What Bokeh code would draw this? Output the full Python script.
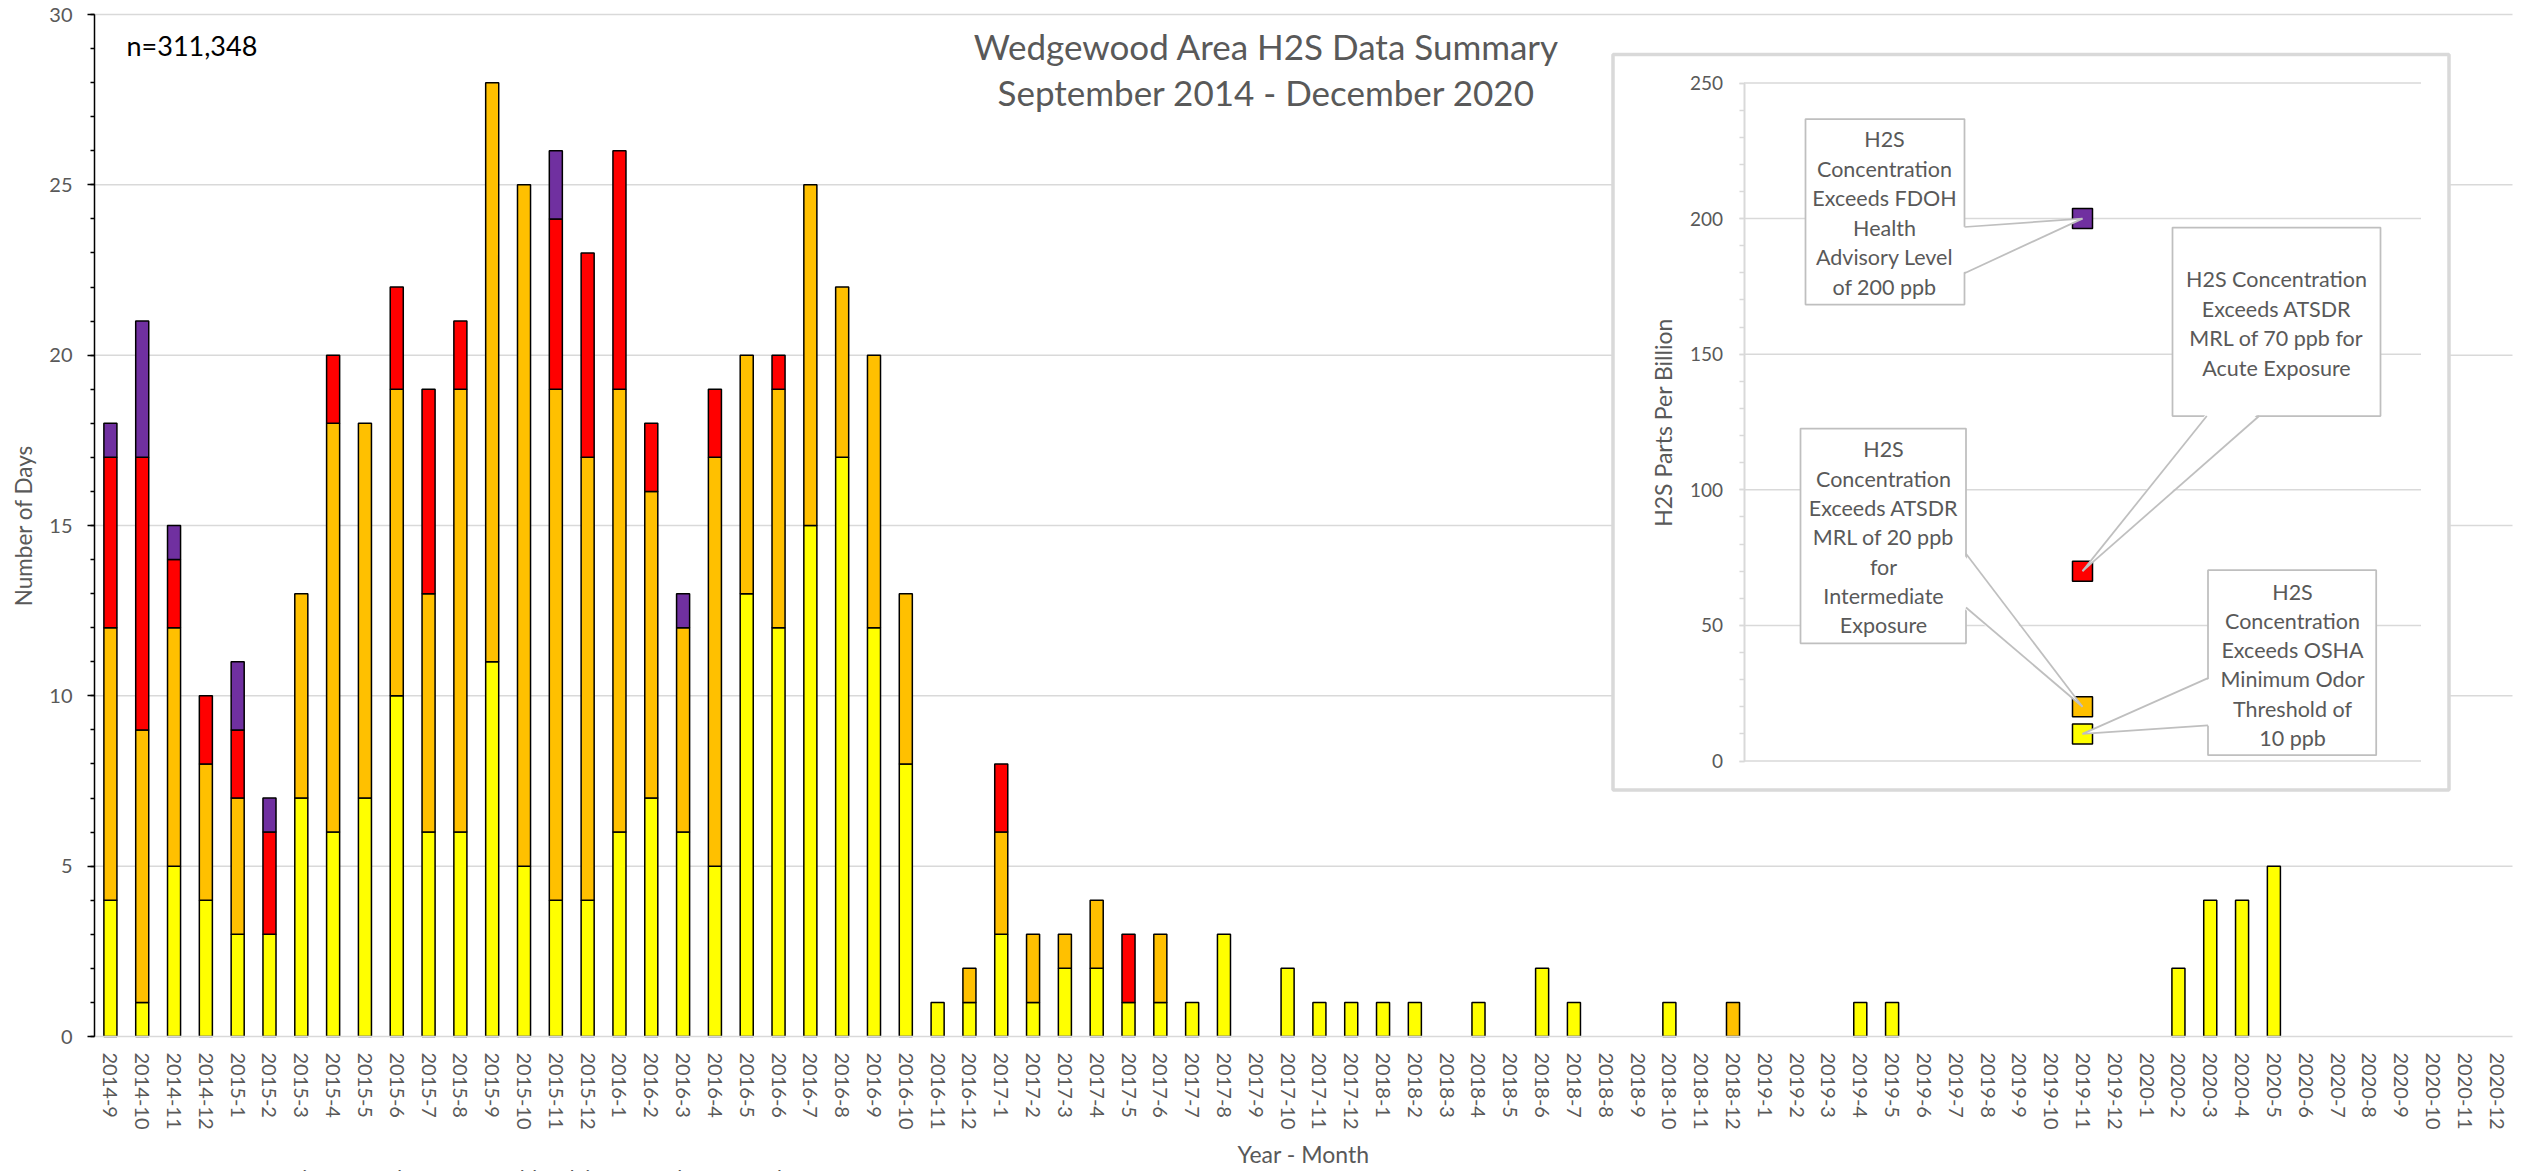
from math import pi
from bokeh.plotting import figure
from bokeh.models import (Range1d, LinearAxis, SingleIntervalTicker, FixedTicker,
                          ColumnDataSource, Label, Legend, LegendItem)
from bokeh.embed import file_html
from bokeh.resources import INLINE
from bokeh.core.properties import value

# ---------------- data ----------------
months = [
    "2014-9", "2014-10", "2014-11", "2014-12",
    "2015-1", "2015-2", "2015-3", "2015-4", "2015-5", "2015-6",
    "2015-7", "2015-8", "2015-9", "2015-10", "2015-11", "2015-12",
    "2016-1", "2016-2", "2016-3", "2016-4", "2016-5", "2016-6",
    "2016-7", "2016-8", "2016-9", "2016-10", "2016-11", "2016-12",
    "2017-1", "2017-2", "2017-3", "2017-4", "2017-5", "2017-6",
    "2017-7", "2017-8", "2017-9", "2017-10", "2017-11", "2017-12",
    "2018-1", "2018-2", "2018-3", "2018-4", "2018-5", "2018-6",
    "2018-7", "2018-8", "2018-9", "2018-10", "2018-11", "2018-12",
    "2019-1", "2019-2", "2019-3", "2019-4", "2019-5", "2019-6",
    "2019-7", "2019-8", "2019-9", "2019-10", "2019-11", "2019-12",
    "2020-1", "2020-2", "2020-3", "2020-4", "2020-5", "2020-6",
    "2020-7", "2020-8", "2020-9", "2020-10", "2020-11", "2020-12",
]

# days per month in each concentration band (stacked segments)
days_osha_10 = [4, 1, 5, 4,
                3, 3, 7, 6, 7, 10, 6, 6, 11, 5, 4, 4,
                6, 7, 6, 5, 13, 12, 15, 17, 12, 8, 1, 1,
                3, 1, 2, 2, 1, 1, 1, 3, 0, 2, 1, 1,
                1, 1, 0, 1, 0, 2, 1, 0, 0, 1, 0, 0,
                0, 0, 0, 1, 1, 0, 0, 0, 0, 0, 0, 0,
                0, 2, 4, 4, 5, 0, 0, 0, 0, 0, 0, 0]
days_atsdr_20 = [8, 8, 7, 4,
                 4, 0, 6, 12, 11, 9, 7, 13, 17, 20, 15, 13,
                 13, 9, 6, 12, 7, 7, 10, 5, 8, 5, 0, 1,
                 3, 2, 1, 2, 0, 2, 0, 0, 0, 0, 0, 0,
                 0, 0, 0, 0, 0, 0, 0, 0, 0, 0, 0, 1,
                 0, 0, 0, 0, 0, 0, 0, 0, 0, 0, 0, 0,
                 0, 0, 0, 0, 0, 0, 0, 0, 0, 0, 0, 0]
days_atsdr_70 = [5, 8, 2, 2,
                 2, 3, 0, 2, 0, 3, 6, 2, 0, 0, 5, 6,
                 7, 2, 0, 2, 0, 1, 0, 0, 0, 0, 0, 0,
                 2, 0, 0, 0, 2, 0, 0, 0, 0, 0, 0, 0,
                 0, 0, 0, 0, 0, 0, 0, 0, 0, 0, 0, 0,
                 0, 0, 0, 0, 0, 0, 0, 0, 0, 0, 0, 0,
                 0, 0, 0, 0, 0, 0, 0, 0, 0, 0, 0, 0]
days_fdoh_200 = [1, 4, 1, 0,
                 2, 1, 0, 0, 0, 0, 0, 0, 0, 0, 2, 0,
                 0, 0, 1, 0, 0, 0, 0, 0, 0, 0, 0, 0,
                 0, 0, 0, 0, 0, 0, 0, 0, 0, 0, 0, 0,
                 0, 0, 0, 0, 0, 0, 0, 0, 0, 0, 0, 0,
                 0, 0, 0, 0, 0, 0, 0, 0, 0, 0, 0, 0,
                 0, 0, 0, 0, 0, 0, 0, 0, 0, 0, 0, 0]

series_labels = [
    "H2S Concentration Exceeds OSHA Minimum Odor Threshold of 10 ppb",
    "H2S Concentration Exceeds ATSDR MRL of 20 ppb for Intermediate Exposure",
    "H2S Concentration Exceeds ATSDR MRL of 70 ppb for Acute Exposure",
    "H2S Concentration Exceeds FDOH Health Advisory Level of 200 ppb",
]
series_colors = ["#FFFF00", "#FFC000", "#FF0000", "#7030A0"]

main_y_ticks = [0, 5, 10, 15, 20, 25, 30]

# inset: threshold levels (ppb)
inset_levels = [200, 70, 20, 10]
inset_colors = ["#7030A0", "#FF0000", "#FFC000", "#FFFF00"]
inset_ticks = [0, 50, 100, 150, 200, 250]

callout_lines = [
    ["H2S", "Concentration", "Exceeds FDOH", "Health", "Advisory Level", "of 200 ppb"],
    ["H2S Concentration", "Exceeds ATSDR", "MRL of 70 ppb for", "Acute Exposure"],
    ["H2S", "Concentration", "Exceeds ATSDR", "MRL of 20 ppb", "for", "Intermediate", "Exposure"],
    ["H2S", "Concentration", "Exceeds OSHA", "Minimum Odor", "Threshold of", "10 ppb"],
]

# ---------------- layout constants (page px) ----------------
W, H = 2532, 1171
PL, PR, PT, PB = 94, 2512, 14, 1036          # main plot area in px
n = len(months)
xpos = list(range(1, n + 1))                 # month slot positions
XMIN, XMAX, YMIN, YMAX = 0.5, n + 0.5, 0, 30
sx = (PR - PL) / (XMAX - XMIN)
sy = (PB - PT) / (YMAX - YMIN)

GRAY_TXT = "#595959"
GRID = "#d9d9d9"
FONT = "Lato"

p = figure(width=W, height=H, output_backend="svg", toolbar_location=None,
           x_range=Range1d(XMIN - PL / sx, XMAX + (W - PR) / sx),
           y_range=Range1d(YMIN - (H - PB) / sy, YMAX + PT / sy), title=None,
           min_border_left=0, min_border_right=0, min_border_top=0, min_border_bottom=0)
p.outline_line_color = None
p.background_fill_color = "white"
p.border_fill_color = "white"
p.xgrid.visible = False
p.ygrid.visible = False

# pixel-coordinate ranges for annotation layout (y grows downward)
p.extra_x_ranges["px"] = Range1d(0, W)
p.extra_y_ranges["px"] = Range1d(H, 0)

# inset ranges
IA_L, IA_R, IA_T, IA_B = 1743.5, 2420.5, 82.5, 760.5
iw, ih = IA_R - IA_L, IA_B - IA_T
p.extra_x_ranges["ix"] = Range1d(-IA_L / iw, (W - IA_L) / iw)
p.extra_y_ranges["iy"] = Range1d((IA_B - H) / ih * 250, IA_B / ih * 250)

def inset_to_px(u, v):
    return IA_L + u * iw, IA_B - v / 250 * ih

# ---------------- main gridlines ----------------
gy = [t for t in main_y_ticks if t > 0]
p.segment(x0=[XMIN] * len(gy), x1=[XMAX] * len(gy), y0=gy, y1=gy,
          line_color=GRID, line_width=1.5)

# ---------------- main axes (fixed inside the canvas) ----------------
yax = p.yaxis[0]
yax.fixed_location = XMIN
yax.bounds = (YMIN, YMAX)
yax.ticker = SingleIntervalTicker(interval=5, num_minor_ticks=5)
yax.axis_line_color = "black"
yax.axis_line_width = 1.5
yax.major_tick_line_color = "black"
yax.major_tick_line_width = 1.5
yax.major_tick_out = 7
yax.major_tick_in = 0
yax.minor_tick_line_color = "black"
yax.minor_tick_line_width = 1.5
yax.minor_tick_out = 4
yax.minor_tick_in = 0
yax.major_label_text_font = FONT
yax.major_label_text_font_size = "20px"
yax.major_label_text_color = GRAY_TXT
yax.major_label_standoff = 15

xax = p.xaxis[0]
xax.fixed_location = YMIN
xax.bounds = (XMIN, XMAX)
xax.ticker = FixedTicker(ticks=xpos)
xax.major_label_overrides = {x: m for x, m in zip(xpos, months)}
xax.axis_line_color = GRID
xax.axis_line_width = 1.5
xax.major_tick_line_color = None
xax.major_tick_out = 0
xax.major_tick_in = 0
xax.minor_tick_line_color = None
xax.minor_tick_out = 0
xax.major_label_orientation = "vertical"
xax.major_label_text_font = FONT
xax.major_label_text_font_size = "20px"
xax.major_label_text_color = GRAY_TXT
xax.major_label_standoff = 16

# ---------------- stacked bars ----------------
renderers = []
base = [0] * n
for vals, col in zip([days_osha_10, days_atsdr_20, days_atsdr_70, days_fdoh_200], series_colors):
    xs, bots, tops = [], [], []
    for x, b, v in zip(xpos, base, vals):
        if v > 0:
            xs.append(x); bots.append(b); tops.append(b + v)
    base = [b + v for b, v in zip(base, vals)]
    src = ColumnDataSource(dict(x=xs, bottom=bots, top=tops))
    r = p.vbar(x="x", bottom="bottom", top="top", width=0.41, source=src,
               fill_color=col, line_color="black", line_width=1.5)
    renderers.append(r)

# ---------------- inset chart ----------------
p.quad(left=[1612.5], right=[2448.5], top=[54], bottom=[789.5],
       fill_color="white", line_color=GRID, line_width=3.5,
       x_range_name="px", y_range_name="px")
p.segment(x0=[0] * len(inset_ticks), x1=[1] * len(inset_ticks),
          y0=inset_ticks, y1=inset_ticks, line_color=GRID, line_width=1.5,
          x_range_name="ix", y_range_name="iy")
p.scatter(x=[0.5] * len(inset_levels), y=inset_levels, marker="square", size=20,
          fill_color=inset_colors, line_color="black", line_width=1.5,
          x_range_name="ix", y_range_name="iy")

iax = LinearAxis(x_range_name="ix", y_range_name="iy", fixed_location=0,
                 bounds=(0, 250),
                 ticker=SingleIntervalTicker(interval=50, num_minor_ticks=5))
iax.axis_line_color = GRID
iax.axis_line_width = 2
iax.major_tick_line_color = GRID
iax.major_tick_line_width = 1.5
iax.major_tick_out = 5
iax.major_tick_in = 0
iax.minor_tick_line_color = GRID
iax.minor_tick_line_width = 1.5
iax.minor_tick_out = 5
iax.minor_tick_in = 0
iax.major_label_text_font = FONT
iax.major_label_text_font_size = "19px"
iax.major_label_text_color = GRAY_TXT
iax.major_label_standoff = 16
p.add_layout(iax, "left")

callout_geom = [
    dict(box=(1805, 1964, 118.5, 304), y0=138.4, step=29.6, tx=1884,
         base=((1964, 226.5), (1964, 272.7)), side="right", lvl=0),
    dict(box=(2172, 2380, 227, 415.5), y0=278.7, step=29.5, tx=2276,
         base=((2206.3, 415.5), (2258.6, 415.5)), side="bottom", lvl=1),
    dict(box=(1800, 1965.5, 428, 642.8), y0=448.8, step=29.3, tx=1883,
         base=((1965.5, 553.3), (1965.5, 607)), side="right", lvl=2),
    dict(box=(2207.5, 2375.7, 569.7, 754.7), y0=591.1, step=29.25, tx=2292,
         base=((2207.5, 677.6), (2207.5, 724.9)), side="left", lvl=3),
]
CALLOUT_LINE = "#bfbfbf"
tx, ty, tt = [], [], []
for g, lines in zip(callout_geom, callout_lines):
    l, r, t, b = g["box"]
    p.quad(left=[l], right=[r], top=[t], bottom=[b],
           fill_color="white", line_color=CALLOUT_LINE, line_width=1.75,
           x_range_name="px", y_range_name="px")
    tipx, tipy = inset_to_px(0.5, inset_levels[g["lvl"]])
    (bx0, by0), (bx1, by1) = g["base"]
    dx, dy = {"right": (-3, 0), "left": (3, 0), "bottom": (0, -3)}[g["side"]]
    p.patch(x=[bx0 + dx, bx1 + dx, tipx], y=[by0 + dy, by1 + dy, tipy],
            fill_color="white", line_color=None,
            x_range_name="px", y_range_name="px")
    p.multi_line(xs=[[bx0, tipx], [bx1, tipx]], ys=[[by0, tipy], [by1, tipy]],
                 line_color=CALLOUT_LINE, line_width=1.75,
                 x_range_name="px", y_range_name="px")
    for i, s in enumerate(lines):
        tx.append(g["tx"]); ty.append(g["y0"] + i * g["step"]); tt.append(s)

p.text(x=tx, y=ty, text=tt, text_align="center", text_baseline="middle",
       text_font=value(FONT), text_font_size="21.5px", text_color=GRAY_TXT,
       x_range_name="px", y_range_name="px")

# ---------------- titles / labels ----------------
def add_label(text, x, y, size, color=GRAY_TXT, align="center", baseline="alphabetic", angle=0):
    px_size = float(size.replace("px", ""))
    if baseline == "alphabetic":
        y = y - 0.46 * px_size      # compensate observed label baseline offset
    p.add_layout(Label(x=x, y=y, text=text, x_range_name="px", y_range_name="px",
                       text_font=FONT, text_font_size=size, text_color=color,
                       text_align=align, text_baseline=baseline, angle=angle))

add_label("Wedgewood Area H2S Data Summary", 1266, 62, "35px")
add_label("September 2014 - December 2020", 1266, 108, "35px")
add_label("n=311,348", 126, 57.5, "27px", color="black", align="left")
add_label("Year - Month", 1303, 1164, "23px")
add_label("Number of Days", 23, 525, "22.5px", baseline="middle", angle=pi / 2)
add_label("H2S Parts Per Billion", 1662, 422, "23px", baseline="middle", angle=pi / 2)

# ---------------- legend (runs off the bottom of the page, as in source) ----------------
legend = Legend(items=[LegendItem(label=series_labels[3], renderers=[renderers[3]])],
                location=(133, -19), orientation="vertical",
                label_text_font=FONT, label_text_font_size="21px",
                label_text_color=GRAY_TXT, glyph_width=16, glyph_height=16,
                label_standoff=5, spacing=6, padding=0, margin=0,
                border_line_color=None, background_fill_alpha=0)
p.add_layout(legend, "center")

open("out.html", "w").write(file_html(p, INLINE))
